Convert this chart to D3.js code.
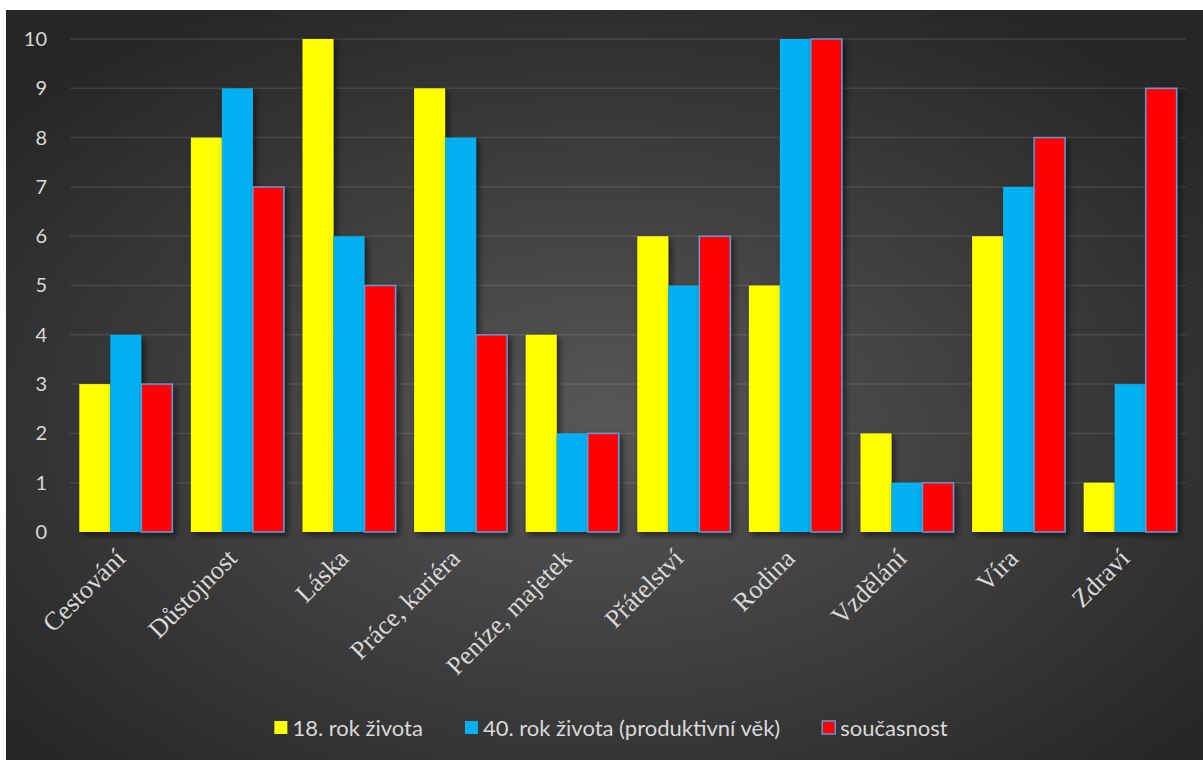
<!DOCTYPE html>
<html>
<head>
<meta charset="utf-8">
<script src="https://cdn.jsdelivr.net/npm/d3@7"></script>
<style>
  html, body { margin: 0; padding: 0; background: #ffffff; }
  svg { display: block; }
</style>
</head>
<body>
<svg id="chart" width="1203" height="760"></svg>
<script>
// Categories (life values) and the three rankings
const categories = ["Cestování", "Důstojnost", "Láska", "Práce, kariéra", "Peníze, majetek",
                    "Přátelství", "Rodina", "Vzdělání", "Víra", "Zdraví"];
const seriesNames = ["18. rok života", "40. rok života (produktivní věk)", "současnost"];
const age18   = [3, 8, 10, 9, 4, 6, 5, 2, 6, 1];
const age40   = [4, 9, 6, 8, 2, 5, 10, 1, 7, 3];
const present = [3, 7, 5, 4, 2, 6, 10, 1, 8, 9];
const yTicks  = [0, 1, 2, 3, 4, 5, 6, 7, 8, 9, 10];

const seriesValues = [age18, age40, present];
const colors = ["#ffff00", "#00b0f0", "#ff0000"];
const strokes = ["none", "none", "#5b9bd5"];

const svg = d3.select("#chart");
const defs = svg.append("defs");

// Dark radial background
const grad = defs.append("radialGradient").attr("id", "bg")
  .attr("cx", "50%").attr("cy", "55%").attr("r", "65%");
grad.append("stop").attr("offset", "0%").attr("stop-color", "#575757");
grad.append("stop").attr("offset", "100%").attr("stop-color", "#262626");

const shadow = defs.append("filter").attr("id", "shadow")
  .attr("x", "-20%").attr("y", "-20%").attr("width", "150%").attr("height", "150%");
shadow.append("feDropShadow").attr("dx", 3).attr("dy", 3).attr("stdDeviation", 3)
  .attr("flood-color", "#000").attr("flood-opacity", 0.55);

svg.append("rect").attr("x", 6).attr("y", 10).attr("width", 1197).attr("height", 750)
  .attr("fill", "url(#bg)");

const plot = { left: 70, right: 1186, top: 39, bottom: 532 };

const x = d3.scaleBand().domain(categories).range([plot.left, plot.right]).padding(0);
const xs = d3.scaleBand().domain(d3.range(seriesNames.length))
  .range([0, x.bandwidth()]).paddingInner(0).paddingOuter(0.3);
const y = d3.scaleLinear().domain([0, 10]).range([plot.bottom, plot.top]);

// Horizontal gridlines
svg.append("g").selectAll("line").data(yTicks.filter(d => d > 0)).join("line")
  .attr("x1", plot.left).attr("x2", plot.right)
  .attr("y1", d => y(d)).attr("y2", d => y(d))
  .attr("stroke", "#ffffff").attr("stroke-opacity", 0.1).attr("stroke-width", 1.5);

// Y axis labels
const yAxis = svg.append("g").attr("transform", `translate(${plot.left - 23},0)`)
  .call(d3.axisLeft(y).tickValues(yTicks).tickSize(0).tickPadding(0).tickFormat(d3.format("d")));
yAxis.select(".domain").remove();
yAxis.selectAll("text")
  .attr("fill", "#d9d9d9").attr("font-family", "Lato, 'Open Sans', sans-serif")
  .attr("font-size", 20);

// Bars
const groups = svg.append("g").selectAll("g").data(categories).join("g")
  .attr("transform", d => `translate(${x(d)},0)`);
groups.selectAll("rect")
  .data((c, i) => seriesValues.map((vals, s) => ({ s, v: vals[i] })))
  .join("rect")
  .attr("x", d => xs(d.s))
  .attr("width", xs.bandwidth())
  .attr("y", d => y(d.v))
  .attr("height", d => y(0) - y(d.v))
  .attr("fill", d => colors[d.s])
  .attr("stroke", d => strokes[d.s])
  .attr("stroke-width", 1.5)
  .attr("filter", "url(#shadow)");

// Baseline
svg.append("line")
  .attr("x1", plot.left).attr("x2", plot.right)
  .attr("y1", y(0)).attr("y2", y(0))
  .attr("stroke", "#9a9a9a").attr("stroke-width", 2)
  .attr("filter", "url(#shadow)");

// Category labels, rotated
svg.append("g").selectAll("text").data(categories).join("text")
  .attr("transform", d => `translate(${x(d) + x.bandwidth() / 2 + 1},560) rotate(-45)`)
  .attr("text-anchor", "end")
  .attr("font-family", "'Liberation Serif', 'Times New Roman', serif")
  .attr("font-size", 26)
  .attr("fill", "#d9d9d9")
  .text(d => d);

// Legend
const legend = svg.append("g");
const items = legend.selectAll("g").data(seriesNames).join("g");
items.append("rect")
  .attr("width", 13).attr("height", 13).attr("y", -7)
  .attr("fill", (d, i) => colors[i])
  .attr("stroke", (d, i) => strokes[i]).attr("stroke-width", 1.5);
items.append("text")
  .attr("x", 18).attr("dy", "0.35em")
  .attr("font-family", "Lato, 'Open Sans', sans-serif").attr("font-size", 22)
  .attr("fill", "#d9d9d9")
  .text(d => d);
let offset = 0;
const positions = [];
items.each(function () {
  positions.push(offset);
  const w = this.querySelector("text").getComputedTextLength();
  offset += 18 + w + 42;
});
const totalW = offset - 42;
const legendX = 611 - totalW / 2;
items.attr("transform", (d, i) => `translate(${legendX + positions[i]},728)`);
</script>
</body>
</html>
